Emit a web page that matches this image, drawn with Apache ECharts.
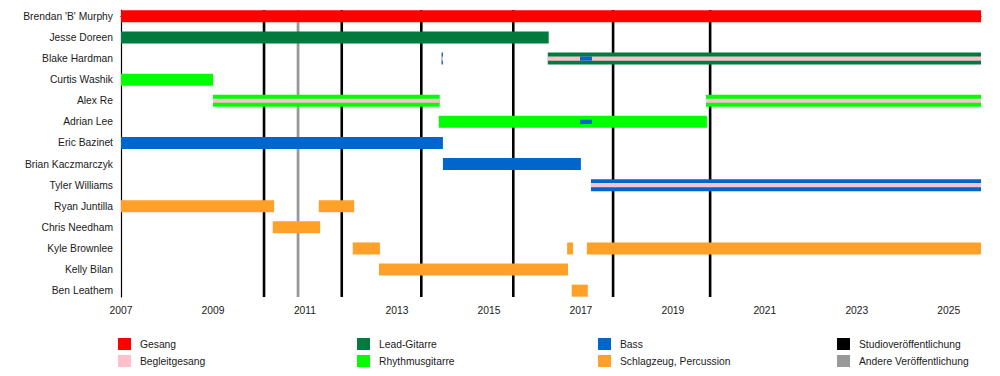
<!DOCTYPE html>
<html>
<head>
<meta charset="utf-8">
<script src="https://cdn.jsdelivr.net/npm/echarts@6/dist/echarts.min.js"></script>
<style>html,body{margin:0;padding:0;background:#fff;}#chart{width:1000px;height:376px;}</style>
</head>
<body>
<div id="chart"></div>
<script>
const members = ["Brendan 'B' Murphy", "Jesse Doreen", "Blake Hardman", "Curtis Washik", "Alex Re", "Adrian Lee", "Eric Bazinet", "Brian Kaczmarczyk", "Tyler Williams", "Ryan Juntilla", "Chris Needham", "Kyle Brownlee", "Kelly Bilan", "Ben Leathem"];
const timelineStart = 2007;
const timelineEnd = 2025.7;
const xLabelYears = [2007, 2009, 2011, 2013, 2015, 2017, 2019, 2021, 2023, 2025];
const xTickYears = [2007, 2008, 2009, 2010, 2011, 2012, 2013, 2014, 2015, 2016, 2017, 2018, 2019, 2020, 2021, 2022, 2023, 2024, 2025];

// [memberIndex, start, end]
const gesang = [[0, 2007, timelineEnd]];
const leadGitarre = [[1, 2007, 2016.30], [2, 2016.28, timelineEnd]];
const rhythmusgitarre = [[3, 2007, 2009.0], [4, 2009.0, 2013.93], [4, 2019.72, timelineEnd], [5, 2013.91, 2019.74]];
const bass = [[2, 2013.97, 2014.0], [6, 2007, 2014.0], [7, 2014.0, 2017.0], [8, 2017.22, timelineEnd]];
const schlagzeug = [[9, 2007, 2010.33], [9, 2011.30, 2012.07], [10, 2010.30, 2011.33], [11, 2012.04, 2012.63], [11, 2016.70, 2016.83], [11, 2017.13, timelineEnd], [12, 2012.61, 2016.72], [13, 2016.80, 2017.15]];
// secondary roles (drawn as thin stripes)
const begleitgesang = [[2, 2013.97, 2014.0], [2, 2016.28, timelineEnd], [4, 2009.0, 2013.93], [4, 2019.72, timelineEnd], [8, 2017.22, timelineEnd]];
const bassSecondary = [[2, 2016.98, 2017.24], [5, 2016.98, 2017.24]];

const studioReleases = [2010.11, 2011.80, 2013.53, 2015.53, 2017.70, 2019.81];
const otherReleases = [2010.85];

const FONT = '"Liberation Sans", Arial, sans-serif';
const TXT = '#1a1a1a';
const C = {
  gesang: '#ff0000', begleit: '#ffc0cb', lead: '#007a3d', rhythm: '#00ff00',
  bass: '#0066cc', drums: '#ffa028', studio: '#000000', other: '#999999'
};

function barRender(frac) {
  return function (params, api) {
    const row = api.value(0), s = api.value(1), e = api.value(2);
    const p0 = api.coord([s, row]);
    const p1 = api.coord([e, row]);
    const h = api.size([0, 1])[1] * frac;
    return {
      type: 'rect',
      shape: { x: p0[0], y: p0[1] - h / 2, width: Math.max(p1[0] - p0[0], 1), height: h },
      style: { fill: api.visual('color') }
    };
  };
}
function lineRender(width) {
  return function (params, api) {
    const cs = params.coordSys;
    const p = api.coord([api.value(0), 0]);
    return {
      type: 'line',
      shape: { x1: p[0], y1: cs.y, x2: p[0], y2: cs.y + cs.height },
      style: { stroke: api.visual('color'), lineWidth: width }
    };
  };
}
function barSeries(name, data, color, frac, z) {
  return {
    type: 'custom', name: name, data: data, z: z,
    itemStyle: { color: color },
    encode: { x: [1, 2], y: 0 },
    renderItem: barRender(frac)
  };
}
function lineSeries(name, data, color, width) {
  return {
    type: 'custom', name: name, data: data.map(v => [v]), z: 1,
    itemStyle: { color: color },
    encode: { x: 0 },
    renderItem: lineRender(width)
  };
}
function legendCol(left, names) {
  return {
    orient: 'vertical', left: left, top: 338, height: 36, width: 200, padding: 0,
    itemWidth: 13, itemHeight: 12, itemGap: 5, icon: 'rect',
    selectedMode: false,
    textStyle: { fontFamily: FONT, fontSize: 10.3, color: TXT, padding: [0, 0, 0, 4] },
    data: names
  };
}

const chart = echarts.init(document.getElementById('chart'), null, { renderer: 'svg' });
chart.setOption({
  animation: false,
  backgroundColor: '#ffffff',
  textStyle: { fontFamily: FONT },
  grid: { left: 121, right: 19, top: 10, bottom: 79 },
  xAxis: {
    type: 'value', min: timelineStart, max: timelineEnd,
    axisLine: { show: true, lineStyle: { color: '#000', width: 1.2 } },
    axisTick: { show: true, length: 4, customValues: xTickYears, lineStyle: { color: '#000' } },
    axisLabel: { customValues: xLabelYears, margin: 8, fontFamily: FONT, fontSize: 10.3, color: TXT, formatter: v => String(v) },
    splitLine: { show: false }
  },
  yAxis: {
    type: 'value', inverse: true, min: -0.3, max: members.length - 0.7,
    axisLine: { show: true, lineStyle: { color: '#000', width: 1.2 } },
    axisTick: { show: false },
    axisLabel: { customValues: members.map((m, i) => i), margin: 8, fontFamily: FONT, fontSize: 10.3, color: TXT, formatter: v => members[v] },
    splitLine: { show: false }
  },
  legend: [
    legendCol(118, ['Gesang', 'Begleitgesang']),
    legendCol(357, ['Lead-Gitarre', 'Rhythmusgitarre']),
    legendCol(598, ['Bass', 'Schlagzeug, Percussion']),
    legendCol(837, ['Studioveröffentlichung', 'Andere Veröffentlichung'])
  ],
  series: [
    lineSeries('Studioveröffentlichung', studioReleases, C.studio, 2.6),
    lineSeries('Andere Veröffentlichung', otherReleases, C.other, 2.8),
    barSeries('Gesang', gesang, C.gesang, 0.57, 2),
    barSeries('Lead-Gitarre', leadGitarre, C.lead, 0.57, 2),
    barSeries('Rhythmusgitarre', rhythmusgitarre, C.rhythm, 0.57, 2),
    barSeries('Bass', bass, C.bass, 0.57, 2),
    barSeries('Schlagzeug, Percussion', schlagzeug, C.drums, 0.57, 2),
    barSeries('Begleitgesang', begleitgesang, C.begleit, 0.2, 3),
    barSeries('Bass', bassSecondary, C.bass, 0.2, 4)
  ]
});
</script>
</body>
</html>
